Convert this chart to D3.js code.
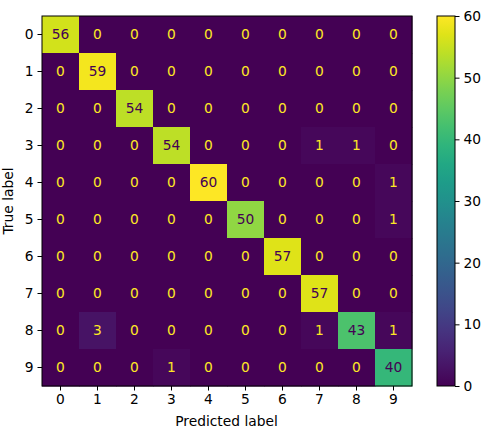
<!DOCTYPE html>
<html>
<head>
<meta charset="utf-8">
<script src="https://cdn.jsdelivr.net/npm/d3@7"></script>
<style>
  body { margin: 0; background: #fff; }
  text { font-family: "DejaVu Sans", sans-serif; }
</style>
</head>
<body>
<svg id="chart" width="498" height="443"></svg>
<script>
// class labels, same for both axes
const labels = ["0", "1", "2", "3", "4", "5", "6", "7", "8", "9"]
// rows = true label, cols = predicted label
const counts = [
  [56, 0, 0, 0, 0, 0, 0, 0, 0, 0],
  [0, 59, 0, 0, 0, 0, 0, 0, 0, 0],
  [0, 0, 54, 0, 0, 0, 0, 0, 0, 0],
  [0, 0, 0, 54, 0, 0, 0, 1, 1, 0],
  [0, 0, 0, 0, 60, 0, 0, 0, 0, 1],
  [0, 0, 0, 0, 0, 50, 0, 0, 0, 1],
  [0, 0, 0, 0, 0, 0, 57, 0, 0, 0],
  [0, 0, 0, 0, 0, 0, 0, 57, 0, 0],
  [0, 3, 0, 0, 0, 0, 0, 1, 43, 1],
  [0, 0, 0, 1, 0, 0, 0, 0, 0, 40]
]
const colorTicks = [0, 10, 20, 30, 40, 50, 60]

const svg = d3.select("#chart")
const mLeft = 42, mTop = 16, size = 370
const fs = 13.8

const x = d3.scaleBand().domain(labels).range([mLeft, mLeft + size])
const y = d3.scaleBand().domain(labels).range([mTop, mTop + size])

const maxVal = d3.max(counts.flat())
const color = d3.scaleSequential(d3.interpolateViridis).domain([0, maxVal])
const thresh = maxVal / 2

let cells = []
counts.forEach((row, i) => row.forEach((v, j) => cells.push({row: labels[i], col: labels[j], v: v})))

svg.append("g").selectAll("rect").data(cells).join("rect")
    .attr("x", d => x(d.col))
    .attr("y", d => y(d.row))
    .attr("width", x.bandwidth() + 0.5)
    .attr("height", y.bandwidth() + 0.5)
    .attr("fill", d => color(d.v))

svg.append("g").selectAll("text").data(cells).join("text")
    .attr("x", d => x(d.col) + x.bandwidth() / 2)
    .attr("y", d => y(d.row) + y.bandwidth() / 2)
    .attr("dy", "0.36em")
    .attr("text-anchor", "middle")
    .attr("font-size", fs)
    .attr("fill", d => d.v > thresh ? color(0) : color(maxVal))
    .text(d => d.v)

// frame round the matrix
svg.append("rect")
    .attr("x", mLeft).attr("y", mTop).attr("width", size).attr("height", size)
    .attr("fill", "none").attr("stroke", "#000").attr("stroke-width", 1)

const xAxis = svg.append("g")
    .attr("transform", `translate(0,${mTop + size})`)
    .call(d3.axisBottom(x).tickSize(4.5).tickPadding(4))
const yAxis = svg.append("g")
    .attr("transform", `translate(${mLeft},0)`)
    .call(d3.axisLeft(y).tickSize(4.5).tickPadding(4))
;[xAxis, yAxis].forEach(a => {
  a.select(".domain").remove()
  a.selectAll("text").attr("font-size", fs).attr("fill", "#000")
      .style("font-family", "DejaVu Sans, sans-serif")
  a.selectAll("line").attr("stroke", "#000")
})

svg.append("text")
    .attr("x", mLeft + size / 2 - 0.5).attr("y", 426)
    .attr("text-anchor", "middle").attr("font-size", fs)
    .text("Predicted label")
svg.append("text")
    .attr("transform", `translate(13,${mTop + size / 2}) rotate(-90)`)
    .attr("text-anchor", "middle").attr("font-size", fs)
    .text("True label")

// colorbar
const cbX = 437, cbW = 18
const cbScale = d3.scaleLinear().domain([0, maxVal]).range([mTop + size, mTop])
const defs = svg.append("defs")
const grad = defs.append("linearGradient").attr("id", "cbgrad")
    .attr("x1", 0).attr("y1", 1).attr("x2", 0).attr("y2", 0)
d3.range(0, 1.0001, 0.05).forEach(t => {
  grad.append("stop").attr("offset", t).attr("stop-color", d3.interpolateViridis(t))
})
svg.append("rect")
    .attr("x", cbX).attr("y", mTop).attr("width", cbW).attr("height", size)
    .attr("fill", "url(#cbgrad)")
    .attr("stroke", "#000").attr("stroke-width", 1)

const cbAxis = svg.append("g")
    .attr("transform", `translate(${cbX + cbW},0)`)
    .call(d3.axisRight(cbScale).tickValues(colorTicks).tickSize(4.5).tickPadding(4))
cbAxis.select(".domain").remove()
cbAxis.selectAll("text").attr("font-size", fs).attr("fill", "#000")
    .style("font-family", "DejaVu Sans, sans-serif")
cbAxis.selectAll("line").attr("stroke", "#000")
</script>
</body>
</html>
